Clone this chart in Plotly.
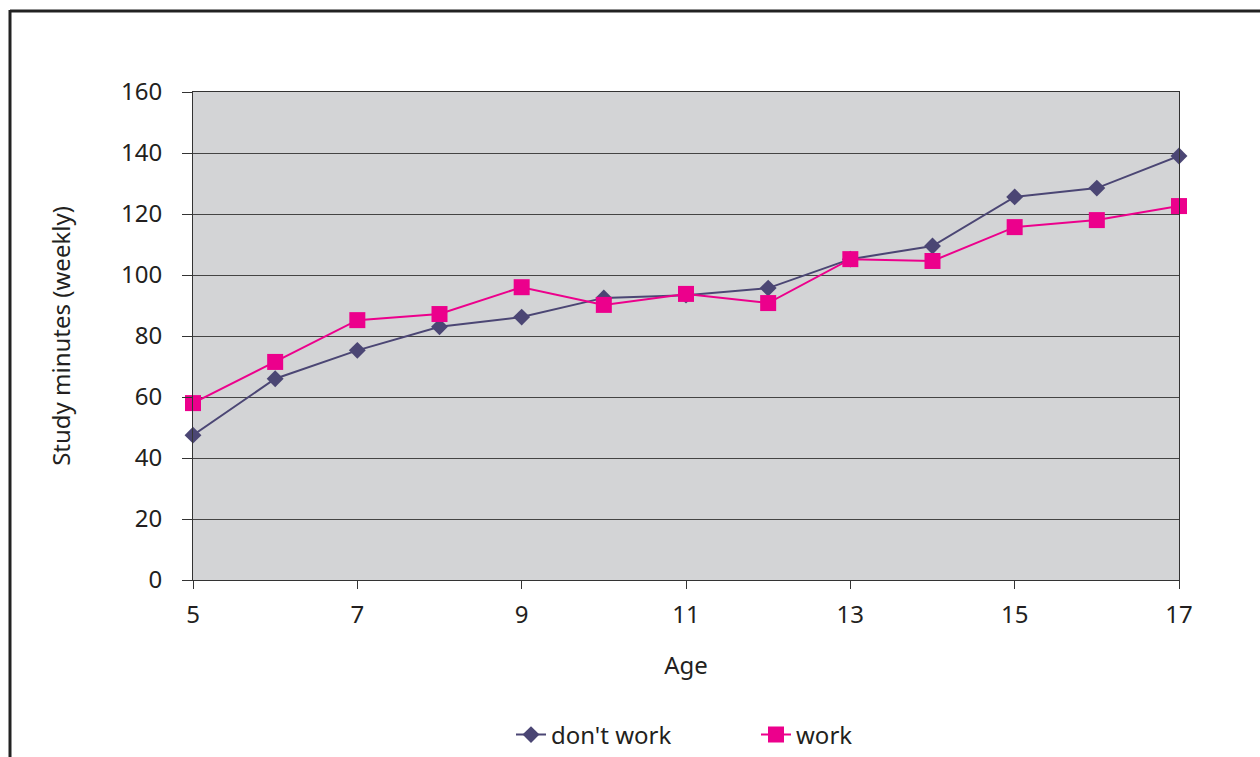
import plotly.graph_objects as go

# Weekly study minutes by age, split by whether the student works
ages = [5, 6, 7, 8, 9, 10, 11, 12, 13, 14, 15, 16, 17]
dont_work = [47.5, 66, 75.3, 83, 86.2, 92.5, 93.4, 95.7, 105.2, 109.5, 125.6, 128.5, 139]
work = [58, 71.5, 85.2, 87.2, 96, 90.2, 93.8, 90.8, 105.2, 104.6, 115.7, 118, 122.6]

x_ticks = [5, 7, 9, 11, 13, 15, 17]
y_ticks = [0, 20, 40, 60, 80, 100, 120, 140, 160]

W, H = 1260, 757
L, R, T, B = 193, 81, 92, 177
pw, ph = W - L - R, H - T - B

def px_to_paper_x(px):
    return (px - L) / pw

def px_to_paper_y(py):
    return (H - B - py) / ph

FONT = "Noto Sans"
TXT = "#231f20"

fig = go.Figure()
fig.add_trace(go.Scatter(
    x=ages, y=dont_work, name="don't work", mode="lines+markers",
    line=dict(color="#4b4674", width=2),
    marker=dict(symbol="diamond", size=13, color="#4b4674"),
    cliponaxis=False,
))
fig.add_trace(go.Scatter(
    x=ages, y=work, name="work", mode="lines+markers",
    line=dict(color="#ec008c", width=2),
    marker=dict(symbol="square", size=16, color="#ec008c"),
    cliponaxis=False,
))

# outer frame: top and left edges only
fig.add_shape(type="line", xref="paper", yref="paper",
              x0=px_to_paper_x(10), x1=px_to_paper_x(1262),
              y0=px_to_paper_y(11), y1=px_to_paper_y(11),
              line=dict(color="#222222", width=3))
fig.add_shape(type="line", xref="paper", yref="paper",
              x0=px_to_paper_x(10), x1=px_to_paper_x(10),
              y0=px_to_paper_y(10), y1=px_to_paper_y(760),
              line=dict(color="#222222", width=3))

fig.update_layout(
    width=W, height=H,
    margin=dict(l=L, r=R, t=T, b=B, autoexpand=False),
    paper_bgcolor="white",
    plot_bgcolor="#d3d4d6",
    font=dict(family=FONT, size=24, color=TXT),
    showlegend=True,
    legend=dict(orientation="h", x=px_to_paper_x(511), xanchor="left",
                y=px_to_paper_y(735), yanchor="middle",
                font=dict(family=FONT, size=24, color=TXT),
                entrywidth=200, entrywidthmode="pixels",
                bgcolor="rgba(0,0,0,0)"),
    xaxis=dict(
        range=[5, 17], tickvals=x_ticks, ticks="outside", ticklen=8,
        tickcolor="#333333", showgrid=False, zeroline=False,
        showline=True, linecolor="#333333", linewidth=1, mirror=True,
        ticklabelstandoff=5,
        title=dict(text="Age", standoff=28, font=dict(size=24)),
    ),
    yaxis=dict(
        range=[0, 160], tickvals=y_ticks, ticks="outside", ticklen=10,
        tickcolor="#333333", showgrid=True, gridcolor="#444444", gridwidth=1,
        zeroline=False, showline=True, linecolor="#333333", linewidth=1,
        mirror=True, ticklabelstandoff=15,
        title=dict(text="Study minutes (weekly)", standoff=43, font=dict(size=24)),
    ),
)

fig.write_html("out.html")
